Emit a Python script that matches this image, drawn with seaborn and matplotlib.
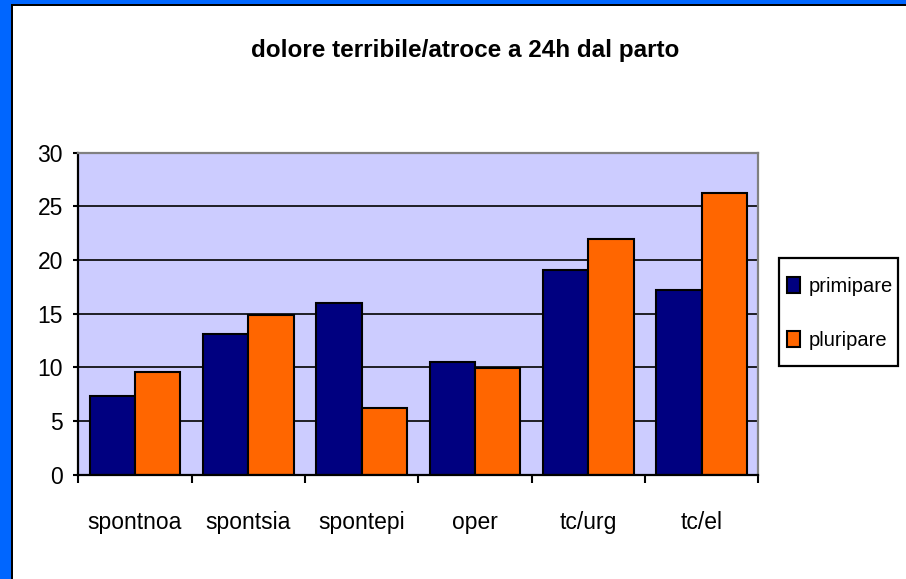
import matplotlib
matplotlib.use("Agg")
import matplotlib.pyplot as plt
from matplotlib.patches import Rectangle
import pandas as pd
import seaborn as sns

# data
categories = ["spontnoa", "spontsia", "spontepi", "oper", "tc/urg", "tc/el"]
primipare = [7.3, 13.1, 16.0, 10.5, 19.1, 17.2]
pluripare = [9.6, 14.9, 6.2, 9.9, 22.0, 26.2]
series_names = ["primipare", "pluripare"]
y_ticks = [0, 5, 10, 15, 20, 25, 30]
title = "dolore terribile/atroce a 24h dal parto"

sns.set_style("white")
plt.rcParams["font.family"] = ["Liberation Sans", "DejaVu Sans"]
for key in ["text.color", "axes.labelcolor", "xtick.color", "ytick.color"]:
    plt.rcParams[key] = "black"

df = pd.DataFrame({
    "category": categories * 2,
    "value": primipare + pluripare,
    "series": [series_names[0]] * len(categories) + [series_names[1]] * len(categories),
})

W, H = 906, 579
fig = plt.figure(figsize=(W / 100, H / 100), dpi=100, facecolor="#0066ff")

# blue frame with a thin black inner line
fig.patches.append(Rectangle((11 / W, 0), 1, 1 - 4 / H, transform=fig.transFigure,
                             facecolor="black", edgecolor="none", zorder=-10))
fig.patches.append(Rectangle((13 / W, 0), 1, 1 - 6 / H, transform=fig.transFigure,
                             facecolor="white", edgecolor="none", zorder=-9))

ax = fig.add_axes([78.3 / W, 1 - 474.7 / H, 680 / W, 322 / H])
ax.set_facecolor("#ccccff")

sns.barplot(data=df, x="category", y="value", hue="series",
            palette=["#000080", "#ff6600"], saturation=1,
            edgecolor="black", linewidth=1.5, width=0.8, ax=ax)

ax.set_ylim(0, 30)
ax.set_yticks(y_ticks)
ax.set_xlabel("")
ax.set_ylabel("")
ax.yaxis.grid(True, color="black", linewidth=1.2)
ax.set_axisbelow(True)

for side in ["left", "bottom"]:
    ax.spines[side].set_color("black")
    ax.spines[side].set_linewidth(1.6)
for side in ["top", "right"]:
    ax.spines[side].set_color("#808080")
    ax.spines[side].set_linewidth(1.6)

# category separators as minor ticks, labels at centres
ax.set_xticks([i - 0.5 for i in range(len(categories) + 1)], minor=True)
ax.tick_params(axis="x", which="major", length=0, pad=26, labelsize=16.5, bottom=True)
ax.tick_params(axis="x", which="minor", length=6, width=1.5, color="black",
               direction="out", bottom=True)
ax.tick_params(axis="y", length=3.6, width=1.5, color="black", pad=7.5,
               labelsize=16.5, direction="out", left=True)

# legend: entries without frame, box drawn separately
leg = ax.legend(loc="center left", bbox_to_anchor=(787 / W, 1 - 313.5 / H),
                bbox_transform=fig.transFigure, borderaxespad=0, borderpad=0,
                frameon=False, fontsize=14.5, handlelength=0.66, handleheight=0.85,
                handletextpad=0.4, labelspacing=1.75)
for patch in leg.get_patches():
    patch.set_linewidth(1.5)
fig.patches.append(Rectangle((779 / W, 1 - 366 / H), 119 / W, 108 / H,
                             transform=fig.transFigure, facecolor="white",
                             edgecolor="black", linewidth=1.6, zorder=-5))

fig.text(465 / W, 1 - 57.3 / H, title, ha="center", va="baseline",
         fontsize=17.5, fontweight="bold")

fig.savefig("out.png", dpi=100)
